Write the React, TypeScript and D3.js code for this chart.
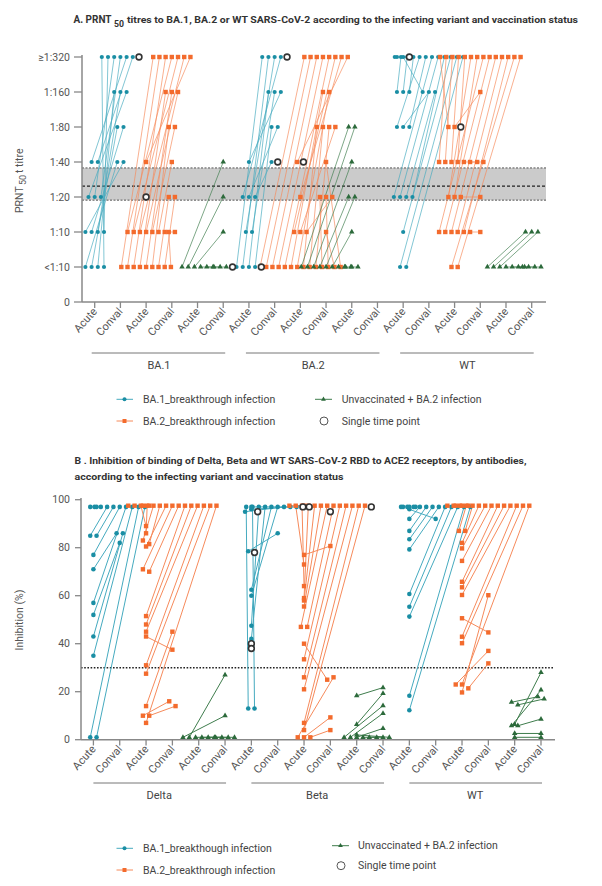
import React from "react";
import * as d3 from "d3";

type Pair = [number | null, number | null];

// ---------- Panel A: PRNT50 titre levels (1 = <1:10 ... 7 = >=1:320) ----------
const levelLabels = ["0", "<1:10", "1:10", "1:20", "1:40", "1:80", "1:160", "≥1:320"];
const groupsA = ["BA.1", "BA.2", "WT"];
const colLabels = ["Acute", "Conval", "Acute", "Conval", "Acute", "Conval"];

const prntBA1_BA1bt: Pair[] = [[1,4],[1,5],[1,6],[1,7],[2,4],[2,5],[2,6],[2,7],[3,6],[3,7],[3,7],[4,7],[4,7],[null,7]];
const prntBA1_BA2bt: Pair[] = [[1,7],[1,7],[1,7],[1,6],[1,6],[1,5],[1,3],[1,3],[1,2],[2,7],[2,7],[2,7],[2,6],[2,5],[2,4],[2,2],[4,7],[3,null]];
const prntBA1_unvax: Pair[] = [[1,4],[1,3],[1,2],[1,1],[1,1],[1,1],[null,1]];
const prntBA2_BA1bt: Pair[] = [[1,7],[1,7],[1,6],[1,5],[2,7],[2,6],[3,7],[3,5],[3,4],[4,6],[1,null],[null,4],[null,7]];
const prntBA2_BA2bt: Pair[] = [[1,7],[1,7],[1,7],[1,7],[1,7],[1,6],[1,6],[1,5],[1,5],[1,5],[1,3],[1,3],[1,2],[1,4],[2,7],[2,5],[2,3],[3,7],[4,7],[4,null]];
const prntBA2_unvax: Pair[] = [[1,5],[1,5],[1,4],[1,3],[1,3],[1,2],[1,1],[1,1],[1,1]];
const prntWT_BA1bt: Pair[] = [[7,7],[7,6],[6,7],[6,7],[6,7],[5,7],[5,6],[5,7],[3,7],[3,7],[3,6],[3,7],[2,7],[1,7],[1,7],[7,null]];
const prntWT_BA2bt: Pair[] = [[5,7],[5,6],[4,7],[4,7],[4,7],[4,7],[4,4],[4,4],[3,7],[3,7],[3,3],[2,7],[2,7],[2,7],[2,7],[2,7],[2,2],[1,7],[1,7],[5,null]];
const prntWT_unvax: Pair[] = [[1,2],[1,2],[1,2],[1,1],[1,1],[1,1],[1,1]];
// threshold band (in level units) and cut-off
const bandA = [2.91, 3.83];
const cutoffA = 3.31;
// column slots (within group) of [acute, conval] per cohort
const colsA = [
  [[0,1],[2,3],[4,5]],
  [[0,1],[2,3],[3,4]],
  [[0,1],[2,3],[4,5]],
];

// ---------- Panel B: inhibition (%) ----------
const groupsB = ["Delta", "Beta", "WT"];
const inhDelta_BA1bt: Pair[] = [[97,97],[97,97],[85,97],[85,97],[77,97],[71,86],[57,97],[52,82],[43,86],[35,97],[1,97],[1,97]];
const inhDelta_BA2bt: Pair[] = [[97.5,97.5],[97.5,97.5],[89,97.5],[86,97.5],[83,97.5],[81.5,97.5],[80.5,97.5],[71,97.5],[70,97.5],[51.5,97.5],[48,97.5],[45,97.5],[43,37.5],[31,97.5],[27.5,97.5],[14,45],[10,16],[10,14],[7,97.5]];
const inhDelta_unvax: Pair[] = [[1,10],[1,27],[1,1],[1,1],[1,1],[1,1]];
const inhBeta_BA1bt: Pair[] = [[13,97],[13,97],[47.5,97],[42,97],[62.5,97],[60,97],[78.5,86],[95,97],[96,97],[97,97],[78,null],[40,null],[38,null],[95,null],[null,97],[null,97]];
const inhBeta_BA2bt: Pair[] = [[97.5,97.5],[77,80.7],[73,97.5],[64,97.5],[59,97.5],[58,97.5],[55.5,97.5],[47,97.5],[47,97.5],[40,25],[33.5,97.5],[26,97.5],[21,97.5],[7,97.5],[4,97.5],[1,26],[1,9.3],[1,4],[null,95],[null,97]];
const inhBeta_unvax: Pair[] = [[18.3,21.7],[6.4,19.3],[1,14.2],[1,11],[1,4.7],[1,1],[1,1],[2,1]];
const inhWT_BA1bt: Pair[] = [[97,97],[97,97],[97,97],[92,97],[87,97],[83.5,97],[79.3,97],[60.7,97],[55.4,97],[51.3,97],[18.3,97],[12.3,97],[96,92]];
const inhWT_BA2bt: Pair[] = [[97.5,97.5],[97.5,97.5],[97.5,97.5],[87,97.5],[87,97.5],[82,97.5],[79.7,97.5],[74.5,97.5],[65.8,97.5],[63.5,97.5],[60.3,97.5],[50.6,44.7],[42.9,97.5],[40.2,97.5],[23,37],[23,97.5],[21.4,31.8],[19.7,60.2]];
const inhWT_unvax: Pair[] = [[15.6,17.9],[14.5,17],[6.4,28],[5.8,20.7],[5.8,8.6],[1,1],[2.6,2.6]];
const cutoffB = 30;
const yTicksB = [0, 20, 40, 60, 80, 100];
const colsB = [
  [[0,1],[2,3],[4,5]],
  [[0,1],[2,3],[4,5]],
  [[0,1],[2,3],[4,5]],
];

const legendLabelsA = ["BA.1_breakthrough infection", "BA.2_breakthrough infection", "Unvaccinated + BA.2 infection", "Single time point"];
const legendLabelsB = ["BA.1_breakthough infection", "BA.2_breakthrough infection", "Unvaccinated + BA.2 infection", "Single time point"];

const dataA: Pair[][][] = [
  [prntBA1_BA1bt, prntBA1_BA2bt, prntBA1_unvax],
  [prntBA2_BA1bt, prntBA2_BA2bt, prntBA2_unvax],
  [prntWT_BA1bt, prntWT_BA2bt, prntWT_unvax],
];
const dataB: Pair[][][] = [
  [inhDelta_BA1bt, inhDelta_BA2bt, inhDelta_unvax],
  [inhBeta_BA1bt, inhBeta_BA2bt, inhBeta_unvax],
  [inhWT_BA1bt, inhWT_BA2bt, inhWT_unvax],
];

const TEAL = "#1a8ea4";
const TEAL_L = "#45aabf";
const ORANGE = "#f36b2d";
const ORANGE_L = "#f68a5b";
const GREEN = "#2c6a3b";
const GREEN_L = "#3f7d4d";
const FONT = "Roboto, 'Noto Sans', sans-serif";
const TXT = "#444";

interface P { col: number; v: number; cohort: number; single: boolean; x: number; y: number; }

function buildLayout(data: Pair[][][], cols: number[][][], xs: (n: number) => number, ys: (n: number) => number, binOf: (v: number) => number, step: number) {
  const buckets = new Map<string, P[]>();
  const pts: P[] = [];
  const links: [P, P][] = [];
  data.forEach((cohorts, gi) =>
    cohorts.forEach((pairs, ci) =>
      pairs.forEach(([a, c]) => {
        const single = a == null || c == null;
        const pa: P | null = a != null ? { col: gi * 6 + cols[gi][ci][0], v: a, cohort: ci, single, x: 0, y: 0 } : null;
        const pc: P | null = c != null ? { col: gi * 6 + cols[gi][ci][1], v: c, cohort: ci, single, x: 0, y: 0 } : null;
        [pa, pc].forEach((p) => {
          if (!p) return;
          const k = p.col + "_" + binOf(p.v);
          if (!buckets.has(k)) buckets.set(k, []);
          buckets.get(k)!.push(p);
          pts.push(p);
        });
        if (pa && pc) links.push([pa, pc]);
      })
    )
  );
  buckets.forEach((list) =>
    list.forEach((p, i) => {
      p.x = xs(p.col) + (i - (list.length - 1) / 2) * step;
      p.y = ys(p.v);
    })
  );
  return { pts, links };
}

const triPath = d3.symbol(d3.symbolTriangle, 13)()!;

function Marker({ p, big }: { p: P; big?: boolean }) {
  if (p.single)
    return <circle cx={p.x} cy={p.y} r={2.9} fill="#fff" stroke="#333" strokeWidth={1.6} />;
  if (p.cohort === 0) return <circle cx={p.x} cy={p.y} r={big ? 2.3 : 2.1} fill={TEAL} />;
  if (p.cohort === 1) return <rect x={p.x - 2.2} y={p.y - 2.2} width={4.4} height={4.4} fill={ORANGE} />;
  return <path d={triPath} transform={`translate(${p.x},${p.y})`} fill={GREEN} />;
}

const lineCol = [TEAL_L, ORANGE_L, GREEN_L];

function Legend({ y1, y2, yG, yC, labels, xG, xGText }: { y1: number; y2: number; yG: number; yC: number; labels: string[]; xG: number; xGText: number }) {
  return (
    <g fontSize={10.5} fill={TXT}>
      <line x1={116.5} x2={133} y1={y1} y2={y1} stroke={TEAL_L} strokeWidth={1} />
      <circle cx={124.5} cy={y1} r={2} fill={TEAL} />
      <text x={143} y={y1} dy="0.35em">{labels[0]}</text>
      <line x1={116.5} x2={133} y1={y2} y2={y2} stroke={ORANGE_L} strokeWidth={1} />
      <rect x={122.5} y={y2 - 2} width={4} height={4} fill={ORANGE} />
      <text x={143} y={y2} dy="0.35em">{labels[1]}</text>
      <line x1={xG} x2={xG + 17} y1={yG} y2={yG} stroke={GREEN_L} strokeWidth={1} />
      <path d={d3.symbol(d3.symbolTriangle, 10)()!} transform={`translate(${xG + 8.5},${yG})`} fill={GREEN} />
      <text x={xGText} y={yG} dy="0.35em">{labels[2]}</text>
      <circle cx={xG + 9} cy={yC} r={4} fill="none" stroke="#555" strokeWidth={1} />
      <text x={xGText} y={yC} dy="0.35em">{labels[3]}</text>
    </g>
  );
}

export default function App() {
  // scales panel A
  const yA = d3.scaleLinear().domain([0, 7]).range([302, 57]);
  const xA = d3.scaleLinear().domain([0, 17]).range([94.7, 531.7]);
  // scales panel B
  const yB = d3.scaleLinear().domain([0, 100]).range([739.7, 499.7]);
  const xB = d3.scaleLinear().domain([0, 17]).range([93.4, 541]);

  const A = buildLayout(dataA, colsA, xA, yA, (v) => v, 6.2);
  const B = buildLayout(dataB, colsB, xB, yB, (v) => Math.round(v / 2.5), 6.3);

  const ticks18 = d3.range(18);

  const drawPanel = (L: { pts: P[]; links: [P, P][] }, lw: number, op: number, big?: boolean) => (
    <g>
      {[0, 1, 2].map((c) => (
        <g key={c}>
          {L.links.filter(([a]) => a.cohort === c).map(([a, b], i) => (
            <line key={i} x1={a.x} y1={a.y} x2={b.x} y2={b.y} stroke={lineCol[c]} strokeWidth={lw} strokeOpacity={op} />
          ))}
        </g>
      ))}
      {L.pts.filter((p) => !p.single).map((p, i) => <Marker key={i} p={p} big={big} />)}
      {L.pts.filter((p) => p.single).map((p, i) => <Marker key={"s" + i} p={p} />)}
    </g>
  );

  return (
    <svg width={602} height={886} style={{ position: "absolute", left: 0, top: 0, background: "#fff" }} fontFamily={FONT}>
      {/* ---------- Panel A ---------- */}
      <g fontWeight="bold" fill="#333">
        <text x={73.5} y={23} fontSize={10} textLength={38} lengthAdjust="spacingAndGlyphs">A. PRNT</text>
        <text x={114} y={26.5} fontSize={9} textLength={10} lengthAdjust="spacingAndGlyphs">50</text>
        <text x={127} y={23} fontSize={9.3} textLength={451} lengthAdjust="spacingAndGlyphs">titres to BA.1, BA.2 or WT SARS-CoV-2 according to the infecting variant and vaccination status</text>
      </g>
      {/* band */}
      <rect x={82} y={yA(bandA[1])} width={546 - 82} height={yA(bandA[0]) - yA(bandA[1])} fill="#cbcbcb" />
      <line x1={82} x2={546} y1={yA(bandA[1])} y2={yA(bandA[1])} stroke="#555" strokeWidth={1} strokeDasharray="2,1.5" />
      <line x1={82} x2={546} y1={yA(bandA[0])} y2={yA(bandA[0])} stroke="#555" strokeWidth={1} strokeDasharray="2,1.5" />
      <line x1={82} x2={546} y1={yA(cutoffA)} y2={yA(cutoffA)} stroke="#222" strokeWidth={1.4} strokeDasharray="3,2" />
      {/* y axis */}
      <line x1={82} x2={82} y1={55} y2={302} stroke="#888" strokeWidth={1.5} />
      {levelLabels.map((l, i) => (
        <g key={i}>
          <line x1={74} x2={82} y1={yA(i)} y2={yA(i)} stroke="#888" strokeWidth={1.3} />
          <text x={70} y={yA(i)} dy="0.35em" textAnchor="end" fontSize={10.5} fill="#555">{l}</text>
        </g>
      ))}
      <g fontSize={10.5} fill="#555">
        <text transform={`translate(23,213) rotate(-90)`}>PRNT</text>
        <text transform={`translate(26,185) rotate(-90)`} fontSize={9}>50</text>
        <text transform={`translate(23,173) rotate(-90)`}>t titre</text>
      </g>
      {/* x axis */}
      <line x1={82} x2={546} y1={302} y2={302} stroke="#888" strokeWidth={1.5} />
      {ticks18.map((i) => (
        <g key={i}>
          <line x1={xA(i)} x2={xA(i)} y1={302} y2={308} stroke="#888" strokeWidth={1.3} />
          <text transform={`translate(${xA(i) + 3},${312}) rotate(-48)`} textAnchor="end" fontSize={11} fill="#555">{colLabels[i % 6]}</text>
        </g>
      ))}
      {groupsA.map((g, gi) => (
        <g key={g}>
          <line x1={xA(gi * 6) - 3} x2={xA(gi * 6 + 5) + 2} y1={353} y2={353} stroke="#777" strokeWidth={1} />
          <text x={(xA(gi * 6) + xA(gi * 6 + 5)) / 2} y={369} textAnchor="middle" fontSize={11} fill={TXT}>{g}</text>
        </g>
      ))}
      {drawPanel(A, 0.8, 0.85)}
      <Legend y1={399.3} y2={421} yG={399.3} yC={421} labels={legendLabelsA} xG={315} xGText={341.7} />

      {/* ---------- Panel B ---------- */}
      <text x={74.5} y={464} fontSize={9.5} fontWeight="bold" fill="#333" textLength={452} lengthAdjust="spacingAndGlyphs">
        B . Inhibition of binding of Delta, Beta and WT SARS-CoV-2 RBD to ACE2 receptors, by antibodies,
      </text>
      <text x={74.5} y={480} fontSize={9.5} fontWeight="bold" fill="#333" textLength={269} lengthAdjust="spacingAndGlyphs">
        according to the infecting variant and vaccination status
      </text>
      <line x1={81} x2={553} y1={yB(cutoffB)} y2={yB(cutoffB)} stroke="#222" strokeWidth={1.6} strokeDasharray="1.6,1.6" />
      <line x1={81} x2={81} y1={498} y2={740} stroke="#888" strokeWidth={1.5} />
      {yTicksB.map((t) => (
        <g key={t}>
          <line x1={75} x2={81} y1={yB(t)} y2={yB(t)} stroke="#888" strokeWidth={1.3} />
          <text x={70} y={yB(t)} dy="0.35em" textAnchor="end" fontSize={10.5} fill="#555">{t}</text>
        </g>
      ))}
      <text transform={`translate(23,620) rotate(-90)`} textAnchor="middle" fontSize={10.5} fill="#555">Inhibition (%)</text>
      <line x1={81} x2={555} y1={739.7} y2={739.7} stroke="#888" strokeWidth={1.5} />
      {ticks18.map((i) => (
        <g key={i}>
          <line x1={xB(i)} x2={xB(i)} y1={739.7} y2={745.5} stroke="#888" strokeWidth={1.3} />
          <text transform={`translate(${xB(i) + 3},${749.5}) rotate(-48)`} textAnchor="end" fontSize={11} fill="#555">{colLabels[i % 6]}</text>
        </g>
      ))}
      {groupsB.map((g, gi) => (
        <g key={g}>
          <line x1={xB(gi * 6)} x2={xB(gi * 6 + 5) + 1} y1={783} y2={783} stroke="#777" strokeWidth={1} />
          <text x={(xB(gi * 6) + xB(gi * 6 + 5)) / 2} y={799} textAnchor="middle" fontSize={11} fill={TXT}>{g}</text>
        </g>
      ))}
      {drawPanel(B, 1.0, 1, true)}
      <Legend y1={848.3} y2={870} yG={845.7} yC={865.7} labels={legendLabelsB} xG={332} xGText={358} />
    </svg>
  );
}
